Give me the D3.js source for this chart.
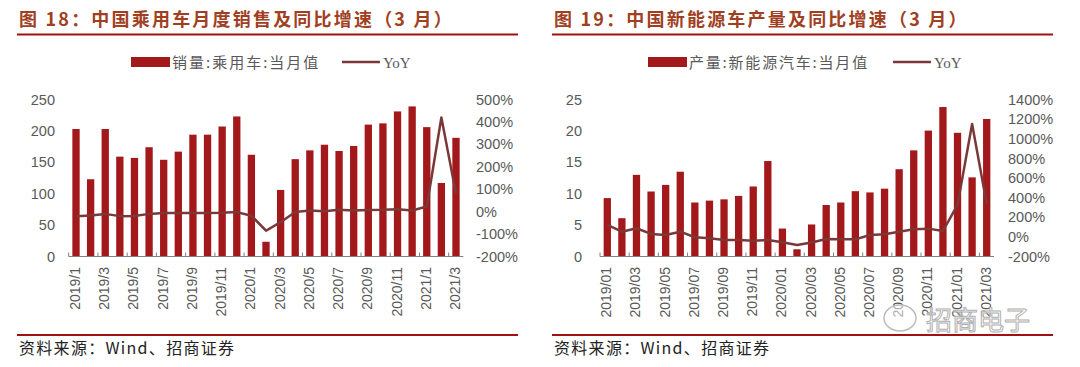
<!DOCTYPE html>
<html>
<head>
<meta charset="utf-8">
<script src="https://cdn.jsdelivr.net/npm/d3@7"></script>
<style>
  body { margin: 0; background: #fff; }
  svg { display: block; }
</style>
</head>
<body>
<div id="chart"></div>
<script>
// months shared by both charts
var months = ["2019/01","2019/02","2019/03","2019/04","2019/05","2019/06","2019/07","2019/08","2019/09","2019/10","2019/11","2019/12",
  "2020/01","2020/02","2020/03","2020/04","2020/05","2020/06","2020/07","2020/08","2020/09","2020/10","2020/11","2020/12",
  "2021/01","2021/02","2021/03"];

// fig 18: passenger car sales (10k units) and yoy (%)
var carSales = [203,123,203,159,157,174,154,167,194,194,207,223,162,23.5,106,155,169,178,168,176,210,212,231,239,206,117,189];
var carYoy = [-20,-17,-10,-20,-19,-10,-6,-6,-6,-6,-5,-2,-18,-85,-47,-2,5,2,8,5,7,8,11,5,23,420,80];
var carLeftTicks = [0,50,100,150,200,250];
var carRightTicks = [-200,-100,0,100,200,300,400,500];

// fig 19: NEV production (10k units) and yoy (%)
var nevOutput = [9.3,6.1,13.0,10.35,11.4,13.5,8.6,8.9,9.1,9.65,11.15,15.2,4.45,1.15,5.1,8.2,8.6,10.4,10.2,10.8,13.9,16.9,20.05,23.8,19.7,12.6,21.9];
var nevYoy = [122,53,88,30,19,53,-4,-14,-32,-32,-39,-32,-55,-83,-58,-21,-25,-25,19,26,53,77,84,60,326,1150,336];
var nevLeftTicks = [0,5,10,15,20,25];
var nevRightTicks = [-200,0,200,400,600,800,1000,1200,1400];

var W = 1080, H = 367;
var barColor = "#a3181a";
var lineColor = "#7b3838";
var titleColor = "#a0401f";
var textColor = "#595959";
var cjk = "'Noto Sans CJK SC', sans-serif";
var latin = "'Liberation Sans', Arial, sans-serif";

var svg = d3.select("#chart").append("svg")
  .attr("width", W)
  .attr("height", H);

function drawPanel(o) {
  var g = svg.append("g");

  // title + rules
  var title = g.append("text")
    .attr("x", o.x0 + 2)
    .attr("y", 26)
    .style("font-family", cjk)
    .style("font-weight", "bold")
    .style("font-size", "18px")
    .style("letter-spacing", "2.2px")
    .style("fill", titleColor);
  title.append("tspan").text("图 " + o.num + "：");
  title.append("tspan").text(o.title);

  g.append("line")
    .attr("x1", o.x0).attr("x2", o.x1)
    .attr("y1", 34.5).attr("y2", 34.5)
    .style("stroke", "#a01010").style("stroke-width", 2);

  g.append("line")
    .attr("x1", o.x0).attr("x2", o.x1)
    .attr("y1", 335).attr("y2", 335)
    .style("stroke", "#a01010").style("stroke-width", 2);

  g.append("text")
    .attr("x", o.x0 + 2)
    .attr("y", 354)
    .style("font-family", cjk)
    .style("font-size", "16px")
    .style("letter-spacing", "1.3px")
    .style("fill", "#222")
    .text("资料来源：Wind、招商证券");

  // scales
  var x = d3.scaleBand()
    .domain(months)
    .range([o.plotL, o.plotR])
    .paddingInner(0.5)
    .paddingOuter(0.25);

  var yL = d3.scaleLinear().domain(o.leftDomain).range([256.5, 99.5]);
  var yR = d3.scaleLinear().domain(o.rightDomain).range([256.5, 99.5]);

  // bars
  g.selectAll(".bar")
    .data(o.bars)
    .enter().append("rect")
    .attr("class", "bar")
    .attr("x", function(d, i) { return x(months[i]); })
    .attr("y", function(d) { return yL(d); })
    .attr("width", x.bandwidth())
    .attr("height", function(d) { return yL(0) - yL(d); })
    .style("fill", barColor);

  // x axis line and ticks every two months
  var step = x.step();
  g.append("line")
    .attr("x1", o.plotL).attr("x2", o.plotR)
    .attr("y1", 256.5).attr("y2", 256.5)
    .style("stroke", "#808080").style("stroke-width", 1);

  var tickIdx = d3.range(0, months.length + 1, 2);
  g.selectAll(".xtick")
    .data(tickIdx)
    .enter().append("line")
    .attr("x1", function(d) { return o.plotL + d * step; })
    .attr("x2", function(d) { return o.plotL + d * step; })
    .attr("y1", 256.5).attr("y2", 252.5)
    .style("stroke", "#808080");

  // x labels (every other month)
  g.selectAll(".xlab")
    .data(months.filter(function(d, i) { return i % 2 === 0; }))
    .enter().append("text")
    .attr("transform", function(d) {
      return "translate(" + (x(d) + x.bandwidth() / 2 + 4) + ",267) rotate(-90)";
    })
    .attr("text-anchor", "end")
    .style("font-family", latin)
    .style("font-size", "14px")
    .style("fill", textColor)
    .text(o.fmt);

  // y axes (labels only)
  var axL = d3.axisLeft(yL).tickValues(o.leftTicks).tickSize(0).tickPadding(0);
  var gl = g.append("g").attr("transform", "translate(" + o.leftLabX + ",0)").call(axL);
  gl.select(".domain").remove();
  gl.selectAll("text")
    .style("font-family", latin).style("font-size", "14.5px").style("fill", textColor);

  var axR = d3.axisRight(yR).tickValues(o.rightTicks).tickSize(0).tickPadding(0)
    .tickFormat(function(d) { return d + "%"; });
  var gr = g.append("g").attr("transform", "translate(" + o.rightLabX + ",0)").call(axR);
  gr.select(".domain").remove();
  gr.selectAll("text")
    .style("font-family", latin).style("font-size", "14.5px").style("fill", textColor);

  // yoy line
  var line = d3.line()
    .x(function(d, i) { return x(months[i]) + x.bandwidth() / 2; })
    .y(function(d) { return yR(d); });

  g.append("path")
    .datum(o.yoy)
    .attr("d", line)
    .style("fill", "none")
    .style("stroke", lineColor)
    .style("stroke-width", 2.5)
    .style("stroke-linejoin", "round");

  // legend
  g.append("rect")
    .attr("x", o.legX).attr("y", 57)
    .attr("width", 39).attr("height", 10)
    .style("fill", barColor);
  g.append("text")
    .attr("x", o.legX + 41).attr("y", 68)
    .style("font-family", cjk)
    .style("font-size", "15px")
    .style("letter-spacing", o.legSpacing)
    .style("fill", textColor)
    .text(o.legend);
  g.append("line")
    .attr("x1", o.legLineX).attr("x2", o.legLineX + 38)
    .attr("y1", 62).attr("y2", 62)
    .style("stroke", lineColor).style("stroke-width", 2.5);
  g.append("text")
    .attr("x", o.legLineX + 41).attr("y", 68)
    .style("font-family", "'Liberation Serif', serif")
    .style("font-size", "15px")
    .style("fill", textColor)
    .text("YoY");
}

drawPanel({
  num: "18",
  title: "中国乘用车月度销售及同比增速（3 月）",
  x0: 17, x1: 518,
  plotL: 68.7, plotR: 463.3,
  leftDomain: [0, 250], rightDomain: [-200, 500],
  leftTicks: carLeftTicks, rightTicks: carRightTicks,
  leftLabX: 55, rightLabX: 476,
  bars: carSales, yoy: carYoy,
  legend: "销量:乘用车:当月值",
  legX: 131, legLineX: 342, legSpacing: "2px",
  fmt: function(d) { return d.replace("/0", "/"); }
});

drawPanel({
  num: "19",
  title: "中国新能源车产量及同比增速（3 月）",
  x0: 552, x1: 1053,
  plotL: 600, plotR: 994,
  leftDomain: [0, 25], rightDomain: [-200, 1400],
  leftTicks: nevLeftTicks, rightTicks: nevRightTicks,
  leftLabX: 582, rightLabX: 1008,
  bars: nevOutput, yoy: nevYoy,
  legend: "产量:新能源汽车:当月值",
  legX: 648, legLineX: 893, legSpacing: "1.8px",
  fmt: function(d) { return d; }
});

// watermark
svg.append("ellipse")
  .attr("cx", 900).attr("cy", 318).attr("rx", 16).attr("ry", 13)
  .style("fill", "#fff").style("fill-opacity", 0.5)
  .style("stroke", "#bdbdbd").style("stroke-width", 1.5);
svg.append("text")
  .attr("x", 926).attr("y", 330)
  .style("font-family", cjk)
  .style("font-size", "26px")
  .style("fill", "#fff")
  .style("fill-opacity", 0.6)
  .style("stroke", "#b0b0b0")
  .style("stroke-width", 1)
  .text("招商电子");
</script>
</body>
</html>
